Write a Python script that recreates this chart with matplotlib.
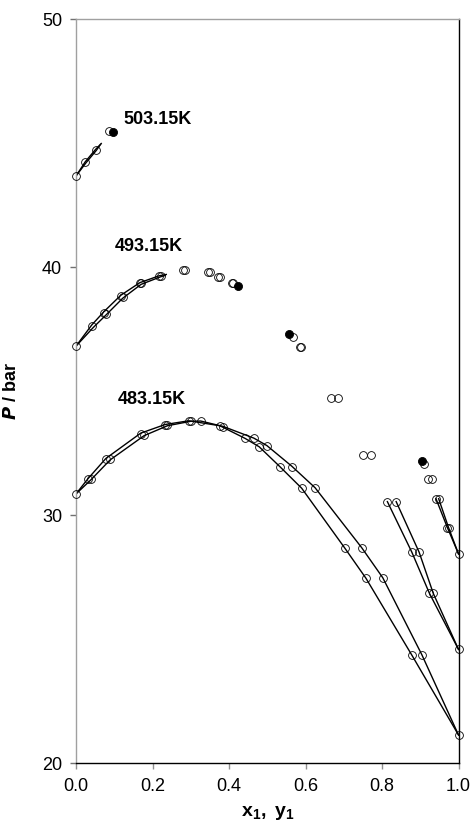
import numpy as np
import matplotlib
matplotlib.use("Agg")
import matplotlib.pyplot as plt

plt.rcParams['font.family'] = ['Liberation Sans', 'DejaVu Sans']
plt.rcParams['mathtext.fontset'] = 'custom'
plt.rcParams['mathtext.rm'] = 'Liberation Sans'
plt.rcParams['mathtext.it'] = 'Liberation Sans:italic'
plt.rcParams['mathtext.bf'] = 'Liberation Sans:bold'

# ---- experimental points (open circles) ----
x_483 = [0.0, 0.031, 0.039, 0.078, 0.089, 0.169, 0.178, 0.233, 0.239, 0.295,
         0.300, 0.326, 0.376, 0.385, 0.442, 0.465, 0.479, 0.499, 0.533, 0.564,
         0.590, 0.625, 0.703, 0.747, 0.758, 0.802, 0.878, 0.904, 1.0]
p_483 = [30.85, 31.44, 31.44, 32.25, 32.25, 33.27, 33.23, 33.63, 33.63, 33.79,
         33.79, 33.79, 33.59, 33.56, 33.09, 33.09, 32.75, 32.78, 31.95, 31.95,
         31.08, 31.08, 28.66, 28.66, 27.45, 27.45, 24.35, 24.35, 21.13]

x_493 = [0.0, 0.041, 0.073, 0.078, 0.117, 0.122, 0.167, 0.170, 0.218, 0.222,
         0.281, 0.285, 0.344, 0.349, 0.372, 0.377, 0.407, 0.410,
         0.566, 0.586, 0.589, 0.666, 0.686, 0.750, 0.770, 0.814, 0.837,
         0.878, 0.897, 0.924, 0.934, 1.0]
p_493 = [36.81, 37.62, 38.16, 38.10, 38.83, 38.80, 39.34, 39.34, 39.64, 39.64,
         39.88, 39.88, 39.81, 39.81, 39.61, 39.61, 39.34, 39.34,
         37.17, 36.76, 36.76, 34.71, 34.71, 32.42, 32.42, 30.54, 30.54,
         28.50, 28.50, 26.84, 26.84, 24.58]

x_503 = [0.0, 0.024, 0.051, 0.087, 0.910, 0.921, 0.930, 0.941, 0.948,
         0.971, 0.974, 1.0]
p_503 = [43.67, 44.22, 44.72, 45.48, 32.06, 31.46, 31.46, 30.66, 30.66,
         29.49, 29.49, 28.43]

# critical points (filled circles)
x_crit = [0.098, 0.424, 0.557, 0.905]
p_crit = [45.46, 39.23, 37.30, 32.18]

# ---- calculated curves ----
curves = [
    # 483.15 K
    ([0.0, 0.039, 0.089, 0.178, 0.239, 0.300, 0.326, 0.385, 0.465, 0.499,
      0.564, 0.625, 0.747, 0.802, 0.904, 1.0],
     [30.85, 31.42, 32.22, 33.20, 33.60, 33.78, 33.79, 33.57, 33.10, 32.80,
      31.97, 31.10, 28.68, 27.47, 24.37, 21.13]),
    ([0.0, 0.031, 0.078, 0.169, 0.233, 0.295, 0.376, 0.442, 0.479, 0.533,
      0.590, 0.703, 0.758, 0.878, 1.0],
     [30.85, 31.46, 32.28, 33.30, 33.65, 33.80, 33.60, 33.09, 32.75, 31.95,
      31.08, 28.66, 27.45, 24.35, 21.13]),
    # 493.15 K
    ([0.0, 0.041, 0.073, 0.117, 0.167, 0.218, 0.236],
     [36.81, 37.66, 38.20, 38.86, 39.37, 39.65, 39.70]),
    ([0.0, 0.045, 0.078, 0.122, 0.170, 0.222, 0.233],
     [36.81, 37.56, 38.06, 38.74, 39.30, 39.61, 39.66]),
    ([0.814, 0.878, 0.924, 1.0], [30.54, 28.50, 26.84, 24.58]),
    ([0.837, 0.897, 0.934, 1.0], [30.54, 28.50, 26.84, 24.58]),
    # 503.15 K
    ([0.0, 0.024, 0.051, 0.066], [43.67, 44.24, 44.74, 44.98]),
    ([0.0, 0.026, 0.053, 0.064], [43.67, 44.20, 44.70, 44.94]),
    ([0.941, 0.971, 1.0], [30.66, 29.49, 28.43]),
    ([0.948, 0.974, 1.0], [30.66, 29.49, 28.43]),
]

temp_labels = ['503.15K', '493.15K', '483.15K']
label_x = [0.123, 0.100, 0.108]
label_p = [45.94, 40.81, 34.64]

fig = plt.figure(figsize=(4.73, 8.34), dpi=100, facecolor='w')
ax = fig.add_axes([0.1607, 0.0851, 0.8087, 0.8921])

for cx, cp in curves:
    ax.plot(cx, cp, color='k', lw=1.0, zorder=2)

for xs, ps in [(x_483, p_483), (x_493, p_493), (x_503, p_503)]:
    ax.plot(xs, ps, ls='none', marker='o', ms=5.6, mfc='none', mec='k',
            mew=0.6, zorder=3, clip_on=False)
ax.plot(x_crit, p_crit, ls='none', marker='o', ms=5.8, mfc='k', mec='k',
        mew=0.6, zorder=4, clip_on=False)

for lab, lx, lp in zip(temp_labels, label_x, label_p):
    ax.text(lx, lp, lab, fontsize=13, fontweight='bold', ha='left',
            va='center')

ax.set_xlim(0, 1)
ax.set_ylim(20, 50)
ax.set_xticks([0.0, 0.2, 0.4, 0.6, 0.8, 1.0])
ax.set_xticklabels(['0.0', '0.2', '0.4', '0.6', '0.8', '1.0'])
ax.set_yticks([20, 30, 40, 50])

grey = '#a0a0a0'
ax.spines['left'].set_color(grey)
ax.spines['top'].set_color(grey)
ax.spines['right'].set_color('k')
ax.spines['bottom'].set_color('k')
for s in ax.spines.values():
    s.set_linewidth(1.0)

ax.tick_params(axis='y', direction='out', length=4, width=1.0, color='#707070',
               labelsize=13, pad=6)
ax.tick_params(axis='x', direction='out', length=4, width=1.0, color='#909090',
               labelsize=13, pad=7)

ax.set_xlabel(r'$\mathbf{x_1,\ y_1}$', fontsize=14, labelpad=6)
ax.set_ylabel(r'$\mathbfit{P}$ / bar', fontsize=13, fontweight='bold',
              labelpad=16)

plt.savefig('out.png', dpi=100, facecolor='w')
